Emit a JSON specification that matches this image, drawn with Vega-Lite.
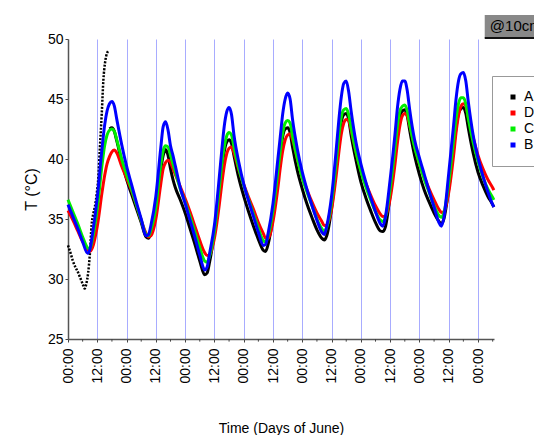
{
  "$schema": "https://vega.github.io/schema/vega-lite/v6.json",
  "autosize": {"type": "none"},
  "width": 426,
  "height": 300,
  "padding": {"left": 68, "top": 39, "right": 40, "bottom": 96},
  "background": "white",
  "config": {
    "font": "Liberation Sans",
    "view": {"stroke": null},
    "axis": {"labelColor": "black", "titleColor": "black", "titleFontWeight": "normal", "domainColor": "#555555", "domainWidth": 1.5, "tickColor": "#444444", "tickSize": 3}
  },
  "datasets": {
    "main": [
      {"t":"2013-06-01T00:00","B":36.2,"C":36.6,"D":35.7},
      {"t":"2013-06-01T02:00","B":35.2,"C":35.6,"D":34.9},
      {"t":"2013-06-01T04:00","B":34.2,"C":34.6,"D":34.0},
      {"t":"2013-06-01T06:00","B":33.1,"C":33.5,"D":33.1},
      {"t":"2013-06-01T08:00","B":32.15,"C":32.6,"D":32.5},
      {"t":"2013-06-01T09:00","B":32.5,"C":32.5,"D":32.3},
      {"t":"2013-06-01T10:00","B":33.7,"C":33.3,"D":32.6},
      {"t":"2013-06-01T12:00","B":36.8,"C":35.9,"D":34.4},
      {"t":"2013-06-01T14:00","B":41.0,"C":39.6,"D":37.3},
      {"t":"2013-06-01T15:00","B":42.8,"C":41.1,"D":38.6},
      {"t":"2013-06-01T16:00","B":44.0,"C":42.0,"D":39.6},
      {"t":"2013-06-01T17:00","A":42.5,"B":44.6,"C":42.4,"D":40.2},
      {"t":"2013-06-01T18:00","A":42.6,"B":44.8,"C":42.5,"D":40.6},
      {"t":"2013-06-01T19:00","A":42.3,"B":44.4,"C":42.3,"D":40.75},
      {"t":"2013-06-01T20:00","A":41.5,"B":43.3,"C":41.6,"D":40.5},
      {"t":"2013-06-01T22:00","A":39.8,"B":41.2,"C":40.0,"D":39.4},
      {"t":"2013-06-02T00:00","A":38.3,"B":39.4,"C":38.7,"D":38.4},
      {"t":"2013-06-02T02:00","A":37.1,"B":37.9,"C":37.5,"D":37.4},
      {"t":"2013-06-02T04:00","A":35.9,"B":36.4,"C":36.2,"D":36.2},
      {"t":"2013-06-02T06:00","A":34.7,"B":35.0,"C":34.9,"D":34.9},
      {"t":"2013-06-02T08:00","A":33.5,"B":33.6,"C":33.7,"D":33.8},
      {"t":"2013-06-02T09:00","A":33.4,"B":33.7,"C":33.6,"D":33.5},
      {"t":"2013-06-02T10:00","A":33.9,"B":34.5,"C":34.1,"D":33.6},
      {"t":"2013-06-02T12:00","A":35.8,"B":36.9,"C":36.0,"D":35.0},
      {"t":"2013-06-02T14:00","A":39.1,"B":40.9,"C":39.5,"D":37.9},
      {"t":"2013-06-02T15:00","A":40.3,"B":42.7,"C":40.7,"D":39.2},
      {"t":"2013-06-02T16:00","A":40.8,"B":43.1,"C":41.1,"D":39.7},
      {"t":"2013-06-02T17:00","A":40.3,"B":42.4,"C":41.0,"D":39.9},
      {"t":"2013-06-02T18:00","A":39.2,"B":41.1,"C":40.3,"D":39.7},
      {"t":"2013-06-02T19:00","A":38.3,"B":40.3,"C":39.6,"D":39.2},
      {"t":"2013-06-02T20:00","A":37.6,"B":39.4,"C":38.9,"D":38.7},
      {"t":"2013-06-02T22:00","A":36.6,"B":37.6,"C":37.5,"D":37.7},
      {"t":"2013-06-03T00:00","A":35.5,"B":36.3,"C":36.4,"D":36.7},
      {"t":"2013-06-03T02:00","A":34.2,"B":34.9,"C":35.2,"D":35.6},
      {"t":"2013-06-03T04:00","A":32.9,"B":33.5,"C":33.9,"D":34.4},
      {"t":"2013-06-03T06:00","A":31.5,"B":32.0,"C":32.6,"D":33.2},
      {"t":"2013-06-03T08:00","A":30.35,"B":30.75,"C":31.5,"D":32.2},
      {"t":"2013-06-03T09:00","A":30.5,"B":31.0,"C":31.4,"D":31.95},
      {"t":"2013-06-03T10:00","A":31.4,"B":32.1,"C":31.9,"D":32.0},
      {"t":"2013-06-03T12:00","A":33.9,"B":34.5,"C":34.0,"D":33.4},
      {"t":"2013-06-03T14:00","A":37.3,"B":38.5,"C":37.6,"D":36.2},
      {"t":"2013-06-03T15:00","A":39.1,"B":40.7,"C":39.5,"D":37.9},
      {"t":"2013-06-03T16:00","A":40.6,"B":42.7,"C":41.0,"D":39.4},
      {"t":"2013-06-03T17:00","A":41.4,"B":43.9,"C":41.9,"D":40.4},
      {"t":"2013-06-03T18:00","A":41.6,"B":44.3,"C":42.2,"D":40.9},
      {"t":"2013-06-03T19:00","A":41.3,"B":43.7,"C":42.0,"D":41.0},
      {"t":"2013-06-03T20:00","A":40.3,"B":42.0,"C":41.0,"D":40.5},
      {"t":"2013-06-03T22:00","A":38.4,"B":39.7,"C":39.2,"D":39.1},
      {"t":"2013-06-04T00:00","A":36.9,"B":37.9,"C":37.8,"D":37.9},
      {"t":"2013-06-04T02:00","A":35.6,"B":36.5,"C":36.6,"D":36.8},
      {"t":"2013-06-04T04:00","A":34.4,"B":35.2,"C":35.4,"D":35.8},
      {"t":"2013-06-04T06:00","A":33.3,"B":33.9,"C":34.2,"D":34.7},
      {"t":"2013-06-04T08:00","A":32.4,"B":32.8,"C":33.2,"D":33.8},
      {"t":"2013-06-04T09:00","A":32.3,"B":32.9,"C":33.1,"D":33.4},
      {"t":"2013-06-04T10:00","A":32.9,"B":33.8,"C":33.6,"D":33.4},
      {"t":"2013-06-04T12:00","A":35.2,"B":36.3,"C":35.7,"D":34.8},
      {"t":"2013-06-04T14:00","A":38.7,"B":40.0,"C":39.0,"D":37.6},
      {"t":"2013-06-04T15:00","A":40.4,"B":41.9,"C":40.7,"D":39.3},
      {"t":"2013-06-04T16:00","A":41.9,"B":43.8,"C":42.2,"D":40.7},
      {"t":"2013-06-04T17:00","A":42.5,"B":45.0,"C":43.0,"D":41.6},
      {"t":"2013-06-04T18:00","A":42.6,"B":45.5,"C":43.2,"D":42.0},
      {"t":"2013-06-04T19:00","A":42.2,"B":45.0,"C":43.0,"D":42.1},
      {"t":"2013-06-04T20:00","A":41.0,"B":43.3,"C":41.9,"D":41.6},
      {"t":"2013-06-04T22:00","A":39.0,"B":40.8,"C":40.0,"D":40.0},
      {"t":"2013-06-05T00:00","A":37.5,"B":38.9,"C":38.4,"D":38.5},
      {"t":"2013-06-05T02:00","A":36.2,"B":37.4,"C":37.2,"D":37.4},
      {"t":"2013-06-05T04:00","A":35.1,"B":36.1,"C":36.1,"D":36.4},
      {"t":"2013-06-05T06:00","A":34.1,"B":34.9,"C":35.0,"D":35.5},
      {"t":"2013-06-05T08:00","A":33.4,"B":33.9,"C":34.2,"D":34.8},
      {"t":"2013-06-05T09:00","A":33.25,"B":33.7,"C":33.95,"D":34.45},
      {"t":"2013-06-05T10:00","A":33.6,"B":34.4,"C":34.3,"D":34.5},
      {"t":"2013-06-05T12:00","A":35.9,"B":36.9,"C":36.4,"D":35.8},
      {"t":"2013-06-05T14:00","A":39.6,"B":41.0,"C":40.0,"D":38.8},
      {"t":"2013-06-05T15:00","A":41.6,"B":43.3,"C":42.0,"D":40.6},
      {"t":"2013-06-05T16:00","A":43.1,"B":45.2,"C":43.5,"D":42.1},
      {"t":"2013-06-05T17:00","A":43.7,"B":46.3,"C":44.1,"D":43.0},
      {"t":"2013-06-05T18:00","A":43.8,"B":46.5,"C":44.2,"D":43.3},
      {"t":"2013-06-05T19:00","A":43.3,"B":45.6,"C":43.7,"D":43.2},
      {"t":"2013-06-05T20:00","A":42.0,"B":44.0,"C":42.6,"D":42.4},
      {"t":"2013-06-05T22:00","A":39.9,"B":41.4,"C":40.6,"D":40.6},
      {"t":"2013-06-06T00:00","A":38.1,"B":39.6,"C":39.0,"D":39.1},
      {"t":"2013-06-06T02:00","A":36.8,"B":38.1,"C":37.7,"D":38.0},
      {"t":"2013-06-06T04:00","A":35.7,"B":36.8,"C":36.6,"D":37.0},
      {"t":"2013-06-06T06:00","A":34.7,"B":35.6,"C":35.6,"D":36.1},
      {"t":"2013-06-06T08:00","A":34.0,"B":34.6,"C":34.9,"D":35.4},
      {"t":"2013-06-06T09:00","A":33.95,"B":34.4,"C":34.8,"D":35.2},
      {"t":"2013-06-06T10:00","A":34.3,"B":35.1,"C":35.1,"D":35.25},
      {"t":"2013-06-06T12:00","A":37.0,"B":38.3,"C":37.5,"D":36.7},
      {"t":"2013-06-06T14:00","A":40.5,"B":42.1,"C":41.0,"D":39.6},
      {"t":"2013-06-06T15:00","A":42.3,"B":44.3,"C":42.8,"D":41.4},
      {"t":"2013-06-06T16:00","A":43.6,"B":45.8,"C":44.0,"D":42.8},
      {"t":"2013-06-06T17:00","A":44.0,"B":46.5,"C":44.4,"D":43.6},
      {"t":"2013-06-06T18:00","A":44.1,"B":46.5,"C":44.5,"D":43.8},
      {"t":"2013-06-06T19:00","A":43.6,"B":45.7,"C":44.0,"D":43.6},
      {"t":"2013-06-06T20:00","A":42.4,"B":44.1,"C":42.9,"D":42.8},
      {"t":"2013-06-06T22:00","A":40.3,"B":41.6,"C":41.0,"D":41.1},
      {"t":"2013-06-07T00:00","A":38.7,"B":40.1,"C":39.6,"D":39.6},
      {"t":"2013-06-07T02:00","A":37.4,"B":38.7,"C":38.3,"D":38.5},
      {"t":"2013-06-07T04:00","A":36.4,"B":37.3,"C":37.2,"D":37.5},
      {"t":"2013-06-07T06:00","A":35.5,"B":36.0,"C":36.1,"D":36.6},
      {"t":"2013-06-07T08:00","A":34.8,"B":34.7,"C":35.3,"D":35.8},
      {"t":"2013-06-07T09:00","A":34.6,"B":34.4,"C":35.15,"D":35.55},
      {"t":"2013-06-07T10:00","A":35.0,"B":35.1,"C":35.5,"D":35.6},
      {"t":"2013-06-07T12:00","A":37.5,"B":38.8,"C":38.0,"D":37.2},
      {"t":"2013-06-07T14:00","A":40.9,"B":42.8,"C":41.6,"D":40.3},
      {"t":"2013-06-07T15:00","A":42.6,"B":45.0,"C":43.4,"D":42.2},
      {"t":"2013-06-07T16:00","A":43.8,"B":46.5,"C":44.6,"D":43.6},
      {"t":"2013-06-07T17:00","A":44.2,"B":47.1,"C":45.1,"D":44.4},
      {"t":"2013-06-07T18:00","A":44.3,"B":47.2,"C":45.1,"D":44.6},
      {"t":"2013-06-07T19:00","A":43.8,"B":46.5,"C":44.6,"D":44.4},
      {"t":"2013-06-07T20:00","A":42.6,"B":44.8,"C":43.4,"D":43.5},
      {"t":"2013-06-07T22:00","A":40.5,"B":42.0,"C":41.4,"D":41.8},
      {"t":"2013-06-08T00:00","A":38.9,"B":40.1,"C":39.8,"D":40.3},
      {"t":"2013-06-08T02:00","A":37.8,"B":38.6,"C":38.5,"D":39.2},
      {"t":"2013-06-08T04:00","A":36.9,"B":37.3,"C":37.5,"D":38.3},
      {"t":"2013-06-08T06:00","A":36.2,"B":36.2,"C":36.8,"D":37.6},
      {"t":"2013-06-08T06:30","A":36.0,"B":36.0,"C":36.6,"D":37.4}
    ],
    "a1": [
      {"t":"2013-06-01T00:00","A":32.8},
      {"t":"2013-06-01T01:00","A":32.2},
      {"t":"2013-06-01T02:00","A":31.5},
      {"t":"2013-06-01T03:00","A":31.0},
      {"t":"2013-06-01T04:00","A":30.6},
      {"t":"2013-06-01T05:00","A":30.1},
      {"t":"2013-06-01T06:00","A":29.6},
      {"t":"2013-06-01T06:50","A":29.2},
      {"t":"2013-06-01T07:30","A":29.6},
      {"t":"2013-06-01T08:15","A":30.5},
      {"t":"2013-06-01T09:00","A":32.2},
      {"t":"2013-06-01T09:40","A":34.5},
      {"t":"2013-06-01T10:20","A":35.4},
      {"t":"2013-06-01T11:00","A":36.0},
      {"t":"2013-06-01T11:50","A":37.2},
      {"t":"2013-06-01T12:25","A":38.4},
      {"t":"2013-06-01T13:05","A":41.0},
      {"t":"2013-06-01T13:50","A":43.8},
      {"t":"2013-06-01T14:30","A":46.6},
      {"t":"2013-06-01T15:10","A":48.0},
      {"t":"2013-06-01T15:40","A":48.6},
      {"t":"2013-06-01T16:30","A":49.0}
    ],
    "minor": [
      {"t":"2013-06-01T06:00"},{"t":"2013-06-01T18:00"},
      {"t":"2013-06-02T06:00"},{"t":"2013-06-02T18:00"},
      {"t":"2013-06-03T06:00"},{"t":"2013-06-03T18:00"},
      {"t":"2013-06-04T06:00"},{"t":"2013-06-04T18:00"},
      {"t":"2013-06-05T06:00"},{"t":"2013-06-05T18:00"},
      {"t":"2013-06-06T06:00"},{"t":"2013-06-06T18:00"},
      {"t":"2013-06-07T06:00"},{"t":"2013-06-07T18:00"},
      {"t":"2013-06-08T06:00"}
    ],
    "note": [{"label": "@10cm"}]
  },
  "layer": [
    {
      "encoding": {
        "x": {
          "field": "t", "type": "temporal", "title": "Time (Days of June)",
          "scale": {"domain": [{"year": 2013, "month": 6, "date": 1}, {"year": 2013, "month": 6, "date": 8, "hours": 6, "minutes": 33}]},
          "axis": {
            "format": "%H:%M",
            "labelAngle": 270, "labelAlign": "right", "labelBaseline": "middle",
            "labelFontSize": 14, "labelPadding": 6, "labelFlush": false, "labelOverlap": false,
            "grid": true, "gridColor": "#a8acff", "gridWidth": 1,
            "titleFontSize": 14, "titlePadding": 38
          }
        },
        "y": {
          "field": "T", "type": "quantitative", "title": "T (°C)",
          "scale": {"domain": [25, 50]},
          "axis": {
            "values": [25, 27.5, 30, 32.5, 35, 37.5, 40, 42.5, 45, 47.5, 50],
            "labelExpr": "datum.value % 5 === 0 ? format(datum.value, 'd') : ''",
            "grid": false, "labelFontSize": 14, "labelPadding": 2,
            "titleFontSize": 16, "titlePadding": 8
          }
        }
      },
      "layer": [
        {
          "data": {"name": "a1"},
          "transform": [{"fold": ["A"], "as": ["series", "T"]}],
          "mark": {"type": "line", "strokeWidth": 2.5, "interpolate": "monotone", "strokeDash": [2, 1.5]},
          "encoding": {"color": {"field": "series", "type": "nominal", "scale": {"domain": ["A", "D", "C", "B"], "range": ["#000000", "#ff0000", "#00ee00", "#0000ff"]}, "legend": {"orient": "none", "legendX": 424, "legendY": 37, "title": null, "symbolType": "square", "symbolSize": 4, "symbolStrokeWidth": 3, "labelFontSize": 14, "padding": 14, "strokeColor": "#999999", "fillColor": "white"}}}
        },
        {
          "data": {"name": "main"},
          "transform": [{"fold": ["A"], "as": ["series", "T"]}],
          "mark": {"type": "line", "strokeWidth": 3, "interpolate": "monotone"},
          "encoding": {"color": {"field": "series", "type": "nominal", "scale": {"domain": ["A", "D", "C", "B"], "range": ["#000000", "#ff0000", "#00ee00", "#0000ff"]}}}
        },
        {
          "data": {"name": "main"},
          "transform": [{"fold": ["D"], "as": ["series", "T"]}],
          "mark": {"type": "line", "strokeWidth": 3, "interpolate": "monotone"},
          "encoding": {"color": {"field": "series", "type": "nominal", "scale": {"domain": ["A", "D", "C", "B"], "range": ["#000000", "#ff0000", "#00ee00", "#0000ff"]}}}
        },
        {
          "data": {"name": "main"},
          "transform": [{"fold": ["C"], "as": ["series", "T"]}],
          "mark": {"type": "line", "strokeWidth": 3, "interpolate": "monotone"},
          "encoding": {"color": {"field": "series", "type": "nominal", "scale": {"domain": ["A", "D", "C", "B"], "range": ["#000000", "#ff0000", "#00ee00", "#0000ff"]}}}
        },
        {
          "data": {"name": "main"},
          "transform": [{"fold": ["B"], "as": ["series", "T"]}],
          "mark": {"type": "line", "strokeWidth": 3, "interpolate": "monotone"},
          "encoding": {"color": {"field": "series", "type": "nominal", "scale": {"domain": ["A", "D", "C", "B"], "range": ["#000000", "#ff0000", "#00ee00", "#0000ff"]}}}
        }
      ]
    },
    {
      "data": {"name": "minor"},
      "mark": {"type": "rule", "stroke": "#444444", "strokeWidth": 1},
      "encoding": {
        "x": {"field": "t", "type": "temporal", "scale": {"domain": [{"year": 2013, "month": 6, "date": 1}, {"year": 2013, "month": 6, "date": 8, "hours": 6, "minutes": 33}]}},
        "y": {"datum": 25, "scale": {"domain": [25, 50]}},
        "y2": {"datum": 24.78}
      }
    },
    {
      "data": {"name": "note"},
      "mark": {"type": "rect", "fill": "#888888"},
      "encoding": {
        "x": {"datum": {"year": 2013, "month": 6, "date": 8, "hours": 2, "minutes": 45}, "scale": {"domain": [{"year": 2013, "month": 6, "date": 1}, {"year": 2013, "month": 6, "date": 8, "hours": 6, "minutes": 33}]}},
        "x2": {"datum": {"year": 2013, "month": 6, "date": 9}},
        "y": {"datum": 52, "scale": {"domain": [25, 50]}},
        "y2": {"datum": 50.1}
      }
    },
    {
      "data": {"name": "note"},
      "mark": {"type": "rule", "stroke": "#111111", "strokeWidth": 2},
      "encoding": {
        "x": {"datum": {"year": 2013, "month": 6, "date": 8, "hours": 2, "minutes": 45}, "scale": {"domain": [{"year": 2013, "month": 6, "date": 1}, {"year": 2013, "month": 6, "date": 8, "hours": 6, "minutes": 33}]}},
        "x2": {"datum": {"year": 2013, "month": 6, "date": 9}},
        "y": {"datum": 50.08, "scale": {"domain": [25, 50]}}
      }
    },
    {
      "data": {"name": "note"},
      "mark": {"type": "text", "align": "left", "baseline": "alphabetic", "fontSize": 15, "color": "black"},
      "encoding": {
        "x": {"datum": {"year": 2013, "month": 6, "date": 8, "hours": 4, "minutes": 50}, "scale": {"domain": [{"year": 2013, "month": 6, "date": 1}, {"year": 2013, "month": 6, "date": 8, "hours": 6, "minutes": 33}]}},
        "y": {"datum": 50.65, "scale": {"domain": [25, 50]}},
        "text": {"field": "label"}
      }
    }
  ]
}
